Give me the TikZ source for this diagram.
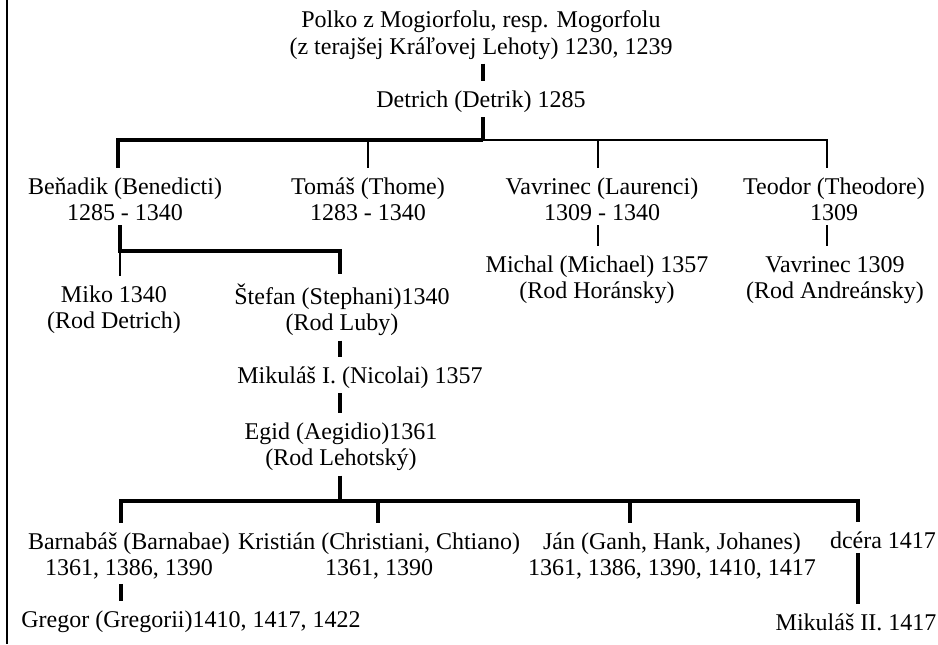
\documentclass[tikz,border=0pt]{standalone}
\usepackage{fontspec}
\setmainfont{Liberation Serif}

\tikzset{every picture/.style={line width=0.75pt}}
\tikzset{
  person/.style={align=center, inner sep=0pt, font=\fontsize{18}{19.8}\selectfont},
  heavy/.style={line width=3pt},
  light/.style={line width=1.4pt},
  fromtxt/.style={shorten <=3pt},
  totxt/.style={shorten >=7pt}
}

\begin{document}
\begin{tikzpicture}[x=0.75pt,y=0.75pt,yscale=-1,xscale=1]
\useasboundingbox (0,0) rectangle (938,644);

%Left rule
\draw [light] (7,0) -- (7,644);

% Text Nodes
\node [person] (polko) at (481,35) {Polko z Mogiorfolu, resp. Mogorfolu\\(z terajšej Kráľovej Lehoty) 1230, 1239};
\node [person] (detrich) at (481,102) {Detrich (Detrik) 1285};
\node [person] (benadik) at (125,199) {Beňadik (Benedicti)\\1285 - 1340};
\node [person] (tomas) at (368,199) {Tomáš (Thome)\\1283 - 1340};
\node [person] (vavrinec) at (602,199) {Vavrinec (Laurenci)\\1309 - 1340};
\node [person] (teodor) at (834,199) {Teodor (Theodore)\\1309};
\node [person] (miko) at (114,310) {Miko 1340\\(Rod Detrich)};
\node [person] (stefan) at (342,310) {Štefan (Stephani)1340\\(Rod Luby)};
\node [person] (michal) at (597,280) {Michal (Michael) 1357\\(Rod Horánsky)};
\node [person] (vavrinecb) at (835,280) {Vavrinec 1309\\(Rod Andreánsky)};
\node [person] (mikulas) at (360,378) {Mikuláš I. (Nicolai) 1357};
\node [person] (egid) at (341,447) {Egid (Aegidio)1361\\(Rod Lehotský)};
\node [person] (barnabas) at (129,556) {Barnabáš (Barnabae)\\1361, 1386, 1390};
\node [person] (kristian) at (379,556) {Kristián (Christiani, Chtiano)\\1361, 1390};
\node [person] (jan) at (672,556) {Ján (Ganh, Hank, Johanes)\\1361, 1386, 1390, 1410, 1417};
\node [person] (dcera) at (883,540) {dcéra 1417};
\node [person] (mikulasb) at (856,622) {Mikuláš II. 1417};
\node [person] (gregor) at (191,622) {Gregor (Gregorii)1410, 1417, 1422};

% Joints on the bars
\coordinate (j1) at (483,140);
\coordinate (t-ben) at (118,140);
\coordinate (t-tom) at (368,140);
\coordinate (t-vav) at (598,140);
\coordinate (t-teo) at (827,140);
\coordinate (j2) at (120,251);
\coordinate (t-ste) at (340,251);
\coordinate (j3) at (340,501);
\coordinate (t-bar) at (121,501);
\coordinate (t-kri) at (378,501);
\coordinate (t-jan) at (630,501);
\coordinate (t-dce) at (858,501);

% Polko -> Detrich -> sons
\draw [heavy,fromtxt,totxt] (polko.south -| j1) -- (detrich.north -| j1);
\draw [heavy,fromtxt] (detrich.south -| j1) -- (j1);
\draw [heavy,totxt] (j1) -- (t-ben) -- (benadik.north -| t-ben);
\draw [light,totxt] (j1) -- (t-teo) -- (teodor.north -| t-teo);
\draw [light,totxt] (t-tom) -- (tomas.north -| t-tom);
\draw [light,totxt] (t-vav) -- (vavrinec.north -| t-vav);
\draw [light,fromtxt,totxt] (vavrinec.south -| t-vav) -- (michal.north -| t-vav);
\draw [light,fromtxt,totxt] (teodor.south -| t-teo) -- (vavrinecb.north -| t-teo);

% Benadik -> Miko, Stefan
\draw [heavy,fromtxt,totxt] (benadik.south -| j2) -- (j2) -- (t-ste) -- (stefan.north -| t-ste);
\draw [light,totxt] (j2) -- (miko.north -| j2);

% Stefan -> Mikulas -> Egid
\draw [heavy,fromtxt,totxt] (stefan.south -| t-ste) -- (mikulas.north -| t-ste);
\draw [heavy,fromtxt,totxt] (mikulas.south -| t-ste) -- (egid.north -| t-ste);

% Egid -> children
\draw [heavy,fromtxt] (egid.south -| j3) -- (j3);
\draw [heavy,totxt] (j3) -- (t-bar) -- (barnabas.north -| t-bar);
\draw [heavy,totxt] (j3) -- (t-dce) -- (dcera.north -| t-dce);
\draw [heavy,totxt] (t-kri) -- (kristian.north -| t-kri);
\draw [heavy,totxt] (t-jan) -- (jan.north -| t-jan);
\draw [heavy,fromtxt,totxt] (barnabas.south -| t-bar) -- (gregor.north -| t-bar);
\draw [heavy,fromtxt,totxt] (dcera.south -| t-dce) -- (mikulasb.north -| t-dce);

\end{tikzpicture}
\end{document}
